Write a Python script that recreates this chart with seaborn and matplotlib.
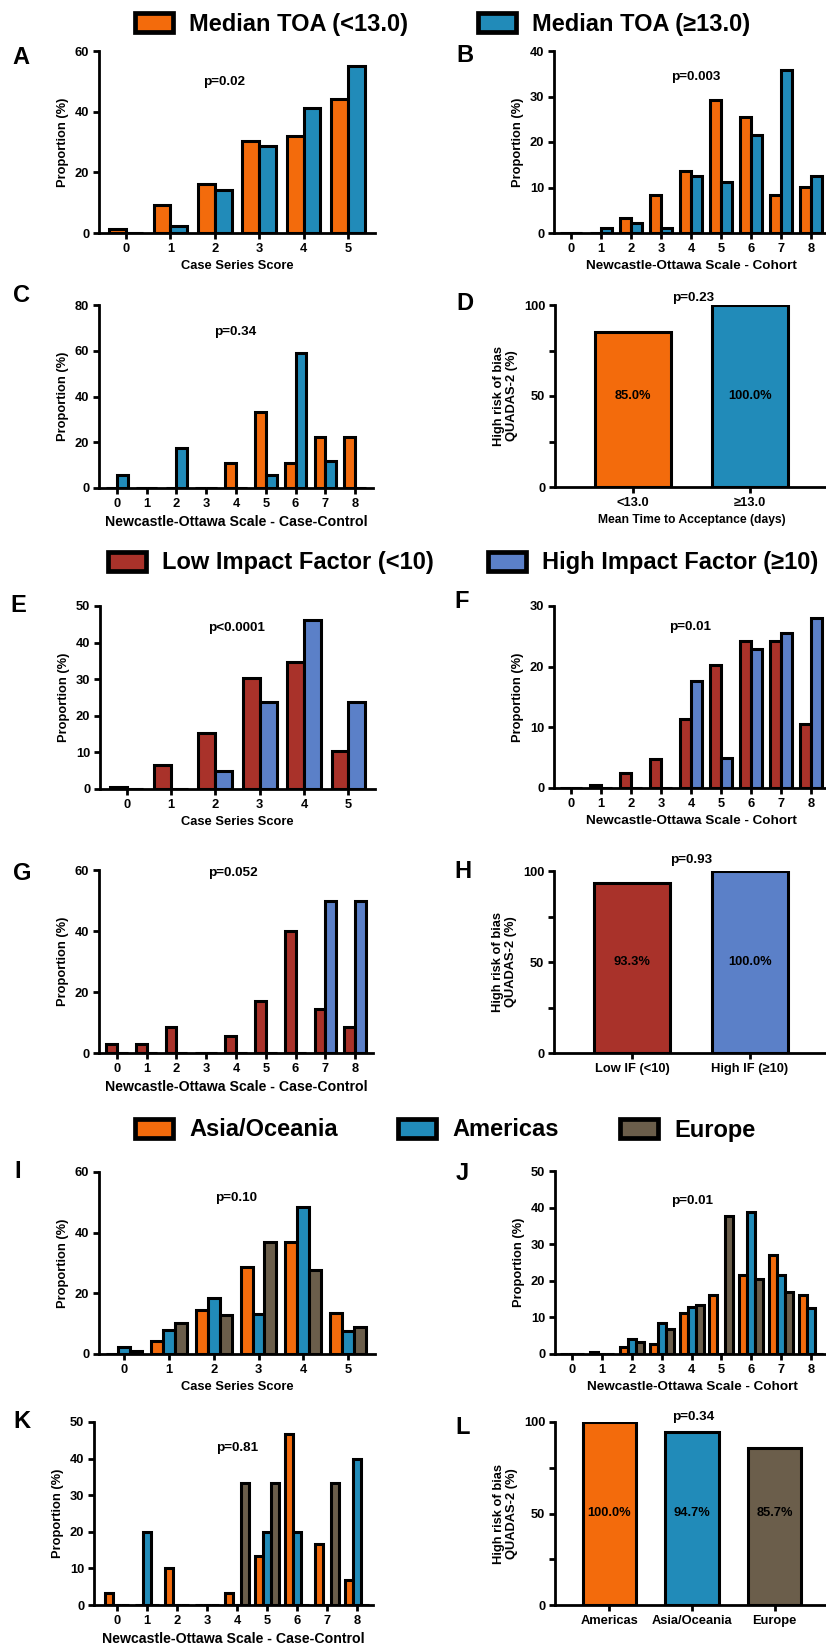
import numpy as np
import pandas as pd
import matplotlib
matplotlib.use("Agg")
import matplotlib.pyplot as plt
import seaborn as sns
from matplotlib.patches import Patch

# ---------------- data ----------------
SCORE_CS = [0, 1, 2, 3, 4, 5]
SCORE_NOS = [0, 1, 2, 3, 4, 5, 6, 7, 8]

TOA_GROUPS = ["Median TOA (<13.0)", "Median TOA (\u226513.0)"]
A_low = [1.3, 9.1, 16.2, 30.2, 32.0, 44.1]
A_high = [0, 2.2, 14.1, 28.6, 41.2, 55.2]
B_low = [0, 0, 3.2, 8.4, 13.6, 29.2, 25.6, 8.4, 10.1]
B_high = [0, 1.1, 2.3, 1.1, 12.6, 11.3, 21.6, 35.8, 12.6]
C_low = [0, 0, 0, 0, 11.1, 33.3, 11.1, 22.2, 22.2]
C_high = [5.9, 0, 17.6, 0, 0, 5.9, 58.8, 11.8, 0]
D_labels = ["<13.0", "\u226513.0"]
D_values = [85.0, 100.0]
D_text = ["85.0%", "100.0%"]

IF_GROUPS = ["Low Impact Factor (<10)", "High Impact Factor (\u226510)"]
E_low = [0.5, 6.6, 15.2, 30.2, 34.8, 10.5]
E_high = [0, 0, 4.8, 23.8, 46.2, 23.8]
F_low = [0, 0.5, 2.5, 4.7, 11.3, 20.2, 24.3, 24.3, 10.6]
F_high = [0, 0, 0, 0, 17.7, 5.0, 22.9, 25.5, 28.0]
G_low = [2.9, 2.9, 8.6, 0, 5.7, 17.1, 40.0, 14.3, 8.6]
G_high = [0, 0, 0, 0, 0, 0, 0, 50.0, 50.0]
H_labels = ["Low IF (<10)", "High IF (\u226510)"]
H_values = [93.3, 100.0]
H_text = ["93.3%", "100.0%"]

REGIONS = ["Asia/Oceania", "Americas", "Europe"]
I_asia = [0, 4.4, 14.5, 28.7, 36.8, 13.4]
I_amer = [2.4, 7.9, 18.5, 13.2, 48.4, 7.6]
I_eur = [1.1, 10.3, 12.9, 36.8, 27.6, 9.0]
J_asia = [0, 0.5, 2.0, 2.6, 11.1, 16.1, 21.7, 27.1, 16.1]
J_amer = [0, 0, 4.2, 8.5, 12.8, 0, 38.8, 21.5, 12.7]
J_eur = [0, 0, 3.3, 6.9, 13.5, 37.6, 20.5, 16.9, 0]
K_asia = [3.3, 0, 10.0, 0, 3.3, 13.3, 46.7, 16.7, 6.7]
K_amer = [0, 20.0, 0, 0, 0, 20.0, 20.0, 0, 40.0]
K_eur = [0, 0, 0, 0, 33.3, 33.3, 0, 33.3, 0]
L_labels = ["Americas", "Asia/Oceania", "Europe"]
L_values = [100.0, 94.7, 85.7]
L_text = ["100.0%", "94.7%", "85.7%"]

ORANGE = "#F36B0C"
BLUE = "#218BB9"
RED = "#A9322A"
LBLUE = "#5B80C8"
GREY = "#6B5E4B"

# ---------------- style ----------------
sns.set_theme(style="ticks")
plt.rcParams['font.family'] = ['Liberation Sans', 'DejaVu Sans']
plt.rcParams.update({
    'font.weight': 'bold', 'axes.labelweight': 'bold',
    'axes.edgecolor': 'black', 'xtick.color': 'black', 'ytick.color': 'black',
    'text.color': 'black', 'axes.labelcolor': 'black',
})

W, H = 826, 1647
fig = plt.figure(figsize=(W / 100, H / 100), dpi=100)

EDGE = 2.2
SPINE = 2.0
TFS = 9.3


def add_ax(left, right, top, bottom):
    return fig.add_axes([left / W, 1 - bottom / H, (right - left) / W, (bottom - top) / H])


def grouped(ax, cats, series, names, palette, width):
    df = pd.DataFrame({
        "cat": np.tile(cats, len(series)),
        "val": np.concatenate([np.asarray(s, float) for s in series]),
        "grp": np.repeat(names, len(cats)),
    })
    sns.barplot(data=df, x="cat", y="val", hue="grp", hue_order=names,
                palette=palette, width=width, saturation=1, edgecolor="black",
                linewidth=EDGE, errorbar=None, legend=False, ax=ax)


def single(ax, labels, values, palette, width, texts):
    df = pd.DataFrame({"cat": labels, "val": values})
    sns.barplot(data=df, x="cat", y="val", hue="cat", order=labels, hue_order=labels,
                palette=palette, width=width, saturation=1, edgecolor="black",
                linewidth=EDGE, errorbar=None, legend=False, ax=ax)
    for i, t in enumerate(texts):
        ax.text(i, 50, t, ha="center", va="center", fontsize=9.3, fontweight="bold")


def style(ax, ylim, yticks, xlim, xlabel, ylabel, ptext, ppos, minor=None, xfs=TFS):
    ax.set_ylim(*ylim)
    ax.set_yticks(yticks)
    if minor is not None:
        ax.set_yticks(minor, minor=True)
    ax.set_xlim(*xlim)
    ax.set_xlabel(xlabel, fontsize=xfs, fontweight="bold", labelpad=4)
    ax.set_ylabel(ylabel, fontsize=TFS, fontweight="bold", labelpad=4)
    sns.despine(ax=ax)
    for s in ["left", "bottom"]:
        ax.spines[s].set_linewidth(SPINE)
    ax.tick_params(which="both", width=SPINE, length=4, labelsize=TFS, pad=3)
    for lab in ax.get_xticklabels() + ax.get_yticklabels():
        lab.set_fontweight("bold")
    ax.text(ppos[0], ppos[1], ptext, transform=ax.transAxes, ha="center", va="center",
            fontsize=9.7, fontweight="bold")


def letter(x, y, s):
    fig.text(x / W, 1 - y / H, s, ha="center", va="center", fontsize=17, fontweight="bold")


def header(x, y, label, color, fs=17):
    h = Patch(facecolor=color, edgecolor="black", linewidth=3.4)
    fig.legend(handles=[h], labels=[label], loc="center left",
               bbox_to_anchor=(x / W, 1 - y / H), frameon=False,
               prop={"size": fs, "weight": "bold"}, handlelength=1.6,
               handleheight=0.85, handletextpad=0.7, borderpad=0, borderaxespad=0)


PROP = "Proportion (%)"
QUAD = "High risk of bias\nQUADAS-2 (%)"

# ---------------- row 1: TOA ----------------
header(135, 24, TOA_GROUPS[0], ORANGE)
header(478, 24, TOA_GROUPS[1], BLUE)

ax = add_ax(99, 375, 51, 233)
grouped(ax, SCORE_CS, [A_low, A_high], TOA_GROUPS, [ORANGE, BLUE], 0.76)
style(ax, (0, 60), [0, 20, 40, 60], (-0.61, 5.61), "Case Series Score", PROP, "p=0.02", (0.453, 0.83))
letter(21, 57, "A")

ax = add_ax(554, 829, 51, 233)
grouped(ax, SCORE_NOS, [B_low, B_high], TOA_GROUPS, [ORANGE, BLUE], 0.72)
style(ax, (0, 40), [0, 10, 20, 30, 40], (-0.57, 8.6), "Newcastle-Ottawa Scale - Cohort", PROP,
      "p=0.003", (0.516, 0.857), xfs=9.7)
letter(465, 55, "B")

ax = add_ax(99, 373, 305, 488)
grouped(ax, SCORE_NOS, [C_low, C_high], TOA_GROUPS, [ORANGE, BLUE], 0.72)
style(ax, (0, 80), [0, 20, 40, 60, 80], (-0.6, 8.6), "Newcastle-Ottawa Scale - Case-Control", PROP,
      "p=0.34", (0.496, 0.852), xfs=10.2)
letter(22, 295, "C")

ax = add_ax(555, 828, 305, 487)
single(ax, D_labels, D_values, [ORANGE, BLUE], 0.65, D_text)
style(ax, (0, 100), [0, 50, 100], (-0.667, 1.667), "Mean Time to Acceptance (days)", QUAD,
      "p=0.23", (0.505, 1.038), minor=[25, 75], xfs=8.7)
letter(465, 303, "D")

# ---------------- row 2: Impact factor ----------------
header(108, 563, IF_GROUPS[0], RED)
header(488, 563, IF_GROUPS[1], LBLUE)

ax = add_ax(100, 375, 606, 789)
grouped(ax, SCORE_CS, [E_low, E_high], IF_GROUPS, [RED, LBLUE], 0.76)
style(ax, (0, 50), [0, 10, 20, 30, 40, 50], (-0.6, 5.6), "Case Series Score", PROP,
      "p<0.0001", (0.498, 0.88))
letter(18, 605, "E")

ax = add_ax(554, 829, 606, 788)
grouped(ax, SCORE_NOS, [F_low, F_high], IF_GROUPS, [RED, LBLUE], 0.72)
style(ax, (0, 30), [0, 10, 20, 30], (-0.57, 8.6), "Newcastle-Ottawa Scale - Cohort", PROP,
      "p=0.01", (0.495, 0.885), xfs=9.7)
letter(462, 602, "F")

ax = add_ax(99, 373, 870, 1053)
grouped(ax, SCORE_NOS, [G_low, G_high], IF_GROUPS, [RED, LBLUE], 0.72)
style(ax, (0, 60), [0, 20, 40, 60], (-0.6, 8.6), "Newcastle-Ottawa Scale - Case-Control", PROP,
      "p=0.052", (0.489, 0.984), xfs=10.2)
letter(22, 873, "G")

ax = add_ax(554, 828, 871, 1053)
single(ax, H_labels, H_values, [RED, LBLUE], 0.65, H_text)
style(ax, (0, 100), [0, 50, 100], (-0.667, 1.667), "", QUAD,
      "p=0.93", (0.5, 1.06), minor=[25, 75])
letter(463, 872, "H")

# ---------------- row 3: regions ----------------
header(135, 1130, REGIONS[0], ORANGE)
header(398, 1130, REGIONS[1], BLUE)
header(620, 1130, REGIONS[2], GREY)

ax = add_ax(99, 375, 1172, 1354)
grouped(ax, SCORE_CS, [I_asia, I_amer, I_eur], REGIONS, [ORANGE, BLUE, GREY], 0.8)
style(ax, (0, 60), [0, 20, 40, 60], (-0.56, 5.6), "Case Series Score", PROP,
      "p=0.10", (0.496, 0.857))
letter(18, 1172, "I")

ax = add_ax(555, 829, 1171, 1354)
grouped(ax, SCORE_NOS, [J_asia, J_amer, J_eur], REGIONS, [ORANGE, BLUE, GREY], 0.8)
style(ax, (0, 50), [0, 10, 20, 30, 40, 50], (-0.57, 8.6), "Newcastle-Ottawa Scale - Cohort", PROP,
      "p=0.01", (0.5, 0.836), xfs=9.7)
letter(462, 1173, "J")

ax = add_ax(94, 373, 1422, 1605)
grouped(ax, SCORE_NOS, [K_asia, K_amer, K_eur], REGIONS, [ORANGE, BLUE, GREY], 0.8)
style(ax, (0, 50), [0, 10, 20, 30, 40, 50], (-0.77, 8.53), "Newcastle-Ottawa Scale - Case-Control", PROP,
      "p=0.81", (0.513, 0.858), xfs=10.2)
letter(22, 1422, "K")

ax = add_ax(555, 829, 1422, 1605)
single(ax, L_labels, L_values, [ORANGE, BLUE, GREY], 0.65, L_text)
style(ax, (0, 100), [0, 50, 100], (-0.66, 2.66), "", QUAD,
      "p=0.34", (0.504, 1.027), minor=[25, 75])
letter(463, 1427, "L")

fig.savefig("out.png", dpi=100)
